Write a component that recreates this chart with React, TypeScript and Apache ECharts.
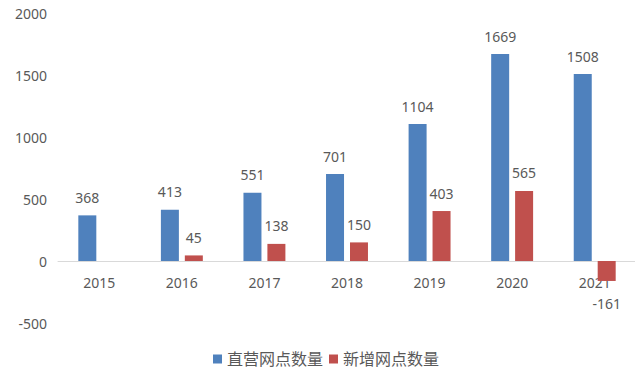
import React, { useEffect, useRef } from "react";
import * as echarts from "echarts";

const categories = ["2015", "2016", "2017", "2018", "2019", "2020", "2021"];
const directStores = [368, 413, 551, 701, 1104, 1669, 1508];
const newStores: (number | null)[] = [null, 45, 138, 150, 403, 565, -161];
const seriesNames = ["直营网点数量", "新增网点数量"];
const yTicks = { min: -500, max: 2000, interval: 500 };

const FONT = "'Noto Sans', 'Noto Sans CJK SC', sans-serif";
const TEXT = "#595959";
const GRID_TOP = 13;
const GRID_BOTTOM = 53;
const HEIGHT = 376;

export default function App() {
  const ref = useRef<HTMLDivElement>(null);
  useEffect(() => {
    if (!ref.current) return;
    const chart = echarts.init(ref.current, undefined, { renderer: "svg" });
    const plotH = HEIGHT - GRID_TOP - GRID_BOTTOM;
    const zeroOffset =
      -(plotH * (0 - yTicks.min)) / (yTicks.max - yTicks.min);
    chart.setOption({
      animation: false,
      textStyle: { fontFamily: FONT },
      grid: { left: 58, right: 7, top: GRID_TOP, bottom: GRID_BOTTOM, containLabel: false },
      legend: {
        data: seriesNames,
        left: 208,
        bottom: 4,
        itemWidth: 9,
        itemHeight: 9,
        itemGap: 6,
        icon: "rect",
        textStyle: { fontSize: 16, color: TEXT, fontFamily: FONT },
      },
      xAxis: {
        type: "category",
        data: categories,
        offset: zeroOffset,
        axisLine: { onZero: false, lineStyle: { color: "#d9d9d9", width: 1 } },
        axisTick: { show: false },
        axisLabel: { color: TEXT, fontSize: 14, margin: 14 },
      },
      yAxis: {
        type: "value",
        min: yTicks.min,
        max: yTicks.max,
        interval: yTicks.interval,
        axisLine: { show: false },
        axisTick: { show: false },
        splitLine: { show: false },
        axisLabel: {
          color: TEXT,
          fontSize: 14,
          margin: 11,
          formatter: (v: number) => String(v),
        },
      },
      series: [
        {
          name: seriesNames[0],
          type: "bar",
          data: directStores,
          barWidth: 18,
          barGap: "33%",
          itemStyle: { color: "#4F81BD" },
          label: {
            show: true,
            position: "top",
            distance: 11,
            color: TEXT,
            fontSize: 14,
          },
        },
        {
          name: seriesNames[1],
          type: "bar",
          data: newStores.map((v) =>
            v === null
              ? null
              : v < 0
              ? { value: v, label: { position: "bottom", offset: [0, 5] } }
              : v
          ),
          barWidth: 18,
          itemStyle: { color: "#C0504D" },
          label: {
            show: true,
            position: "top",
            distance: 11,
            color: TEXT,
            fontSize: 14,
          },
        },
      ],
    });
    return () => chart.dispose();
  }, []);
  return <div ref={ref} style={{ width: 643, height: 376, margin: -8 }} />;
}
